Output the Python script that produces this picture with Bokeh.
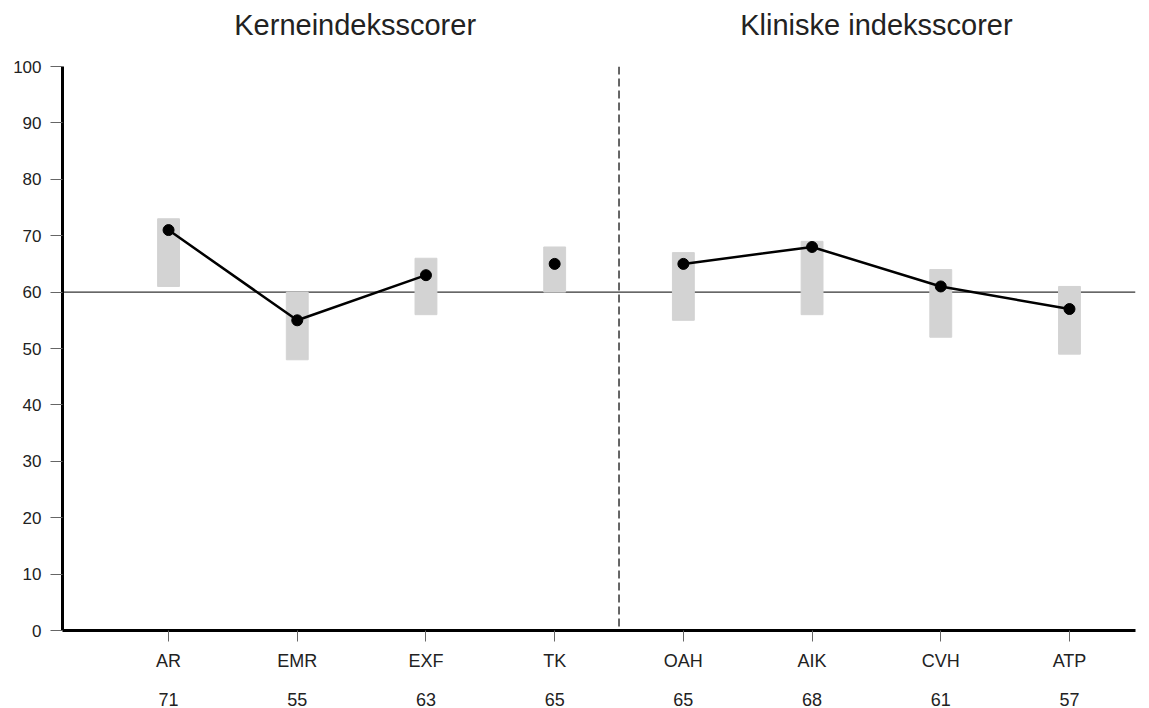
from bokeh.plotting import figure
from bokeh.models import Span, LinearAxis, FixedTicker, Range1d, ColumnDataSource
from bokeh.embed import file_html
from bokeh.resources import INLINE

categories = ["AR", "EMR", "EXF", "TK", "OAH", "AIK", "CVH", "ATP"]
scores = [71, 55, 63, 65, 65, 68, 61, 57]
band_low = [61, 48, 56, 60, 55, 56, 52, 49]
band_high = [73, 60, 66, 68, 67, 69, 64, 61]
line_groups = [[0, 1, 2], [3], [4, 5, 6, 7]]
group_titles = ["Kerneindeksscorer", "Kliniske indeksscorer"]
group_centers = [1.45, 5.5]
y_ticks = list(range(0, 101, 10))
reference_line = 60
divider = 3.5

FONT = "Liberation Sans"
TXT = "#222222"

idx = list(range(len(categories)))
src = ColumnDataSource(dict(x=idx, cat=categories, score=scores, lo=band_low, hi=band_high))

p = figure(width=1141, height=708, x_range=Range1d(-0.824, 7.513), y_range=Range1d(0, 100),
           output_backend="svg", toolbar_location=None, x_axis_type=None,
           min_border_left=62, min_border_right=6, min_border_top=66, min_border_bottom=78)
p.outline_line_color = None
p.xgrid.visible = False
p.ygrid.visible = False

# y axis
ya = p.yaxis[0]
ya.ticker = FixedTicker(ticks=y_ticks)
ya.axis_line_width = 3
ya.axis_line_color = "black"
ya.major_tick_line_color = "#666666"
ya.major_tick_in = 0
ya.major_tick_out = 12
ya.minor_tick_line_color = None
ya.major_label_text_font = FONT
ya.major_label_text_font_size = "17px"
ya.major_label_text_color = TXT
ya.major_label_standoff = 9

# group titles as an axis above
ta = LinearAxis(ticker=FixedTicker(ticks=group_centers),
                major_label_overrides={c: t for c, t in zip(group_centers, group_titles)})
ta.axis_line_color = None
ta.major_tick_line_color = None
ta.minor_tick_line_color = None
ta.major_label_text_font = FONT
ta.major_label_text_font_size = "29px"
ta.major_label_text_color = TXT
ta.major_label_standoff = 20
p.add_layout(ta, "above")

# category axis
xa = LinearAxis(ticker=FixedTicker(ticks=idx),
                major_label_overrides={i: c for i, c in zip(idx, categories)})
xa.axis_line_width = 3
xa.axis_line_color = "black"
xa.major_tick_line_color = "#666666"
xa.major_tick_in = 0
xa.major_tick_out = 11
xa.minor_tick_line_color = None
xa.major_label_text_font = FONT
xa.major_label_text_font_size = "18px"
xa.major_label_text_color = TXT
xa.major_label_standoff = 9
p.add_layout(xa, "below")

# score value axis
va = LinearAxis(ticker=FixedTicker(ticks=idx),
                major_label_overrides={i: str(s) for i, s in zip(idx, scores)})
va.axis_line_color = None
va.major_tick_line_color = None
va.minor_tick_line_color = None
va.major_label_text_font = FONT
va.major_label_text_font_size = "18px"
va.major_label_text_color = TXT
va.major_label_standoff = 13
p.add_layout(va, "below")

p.add_layout(Span(location=reference_line, dimension="width", line_color="black",
                  line_width=1, level="underlay"))
p.add_layout(Span(location=divider, dimension="height", line_color="black",
                  line_width=1.2, line_dash="8 4", level="underlay"))

p.vbar(x="x", bottom="lo", top="hi", width=0.17, color="#d3d3d3", source=src)

xs = [[idx[i] for i in g] for g in line_groups if len(g) > 1]
ys = [[scores[i] for i in g] for g in line_groups if len(g) > 1]
p.multi_line(xs=xs, ys=ys, line_color="black", line_width=2.5)
p.scatter(x="x", y="score", size=11, color="black", source=src)

open("out.html", "w").write(file_html(p, INLINE))
